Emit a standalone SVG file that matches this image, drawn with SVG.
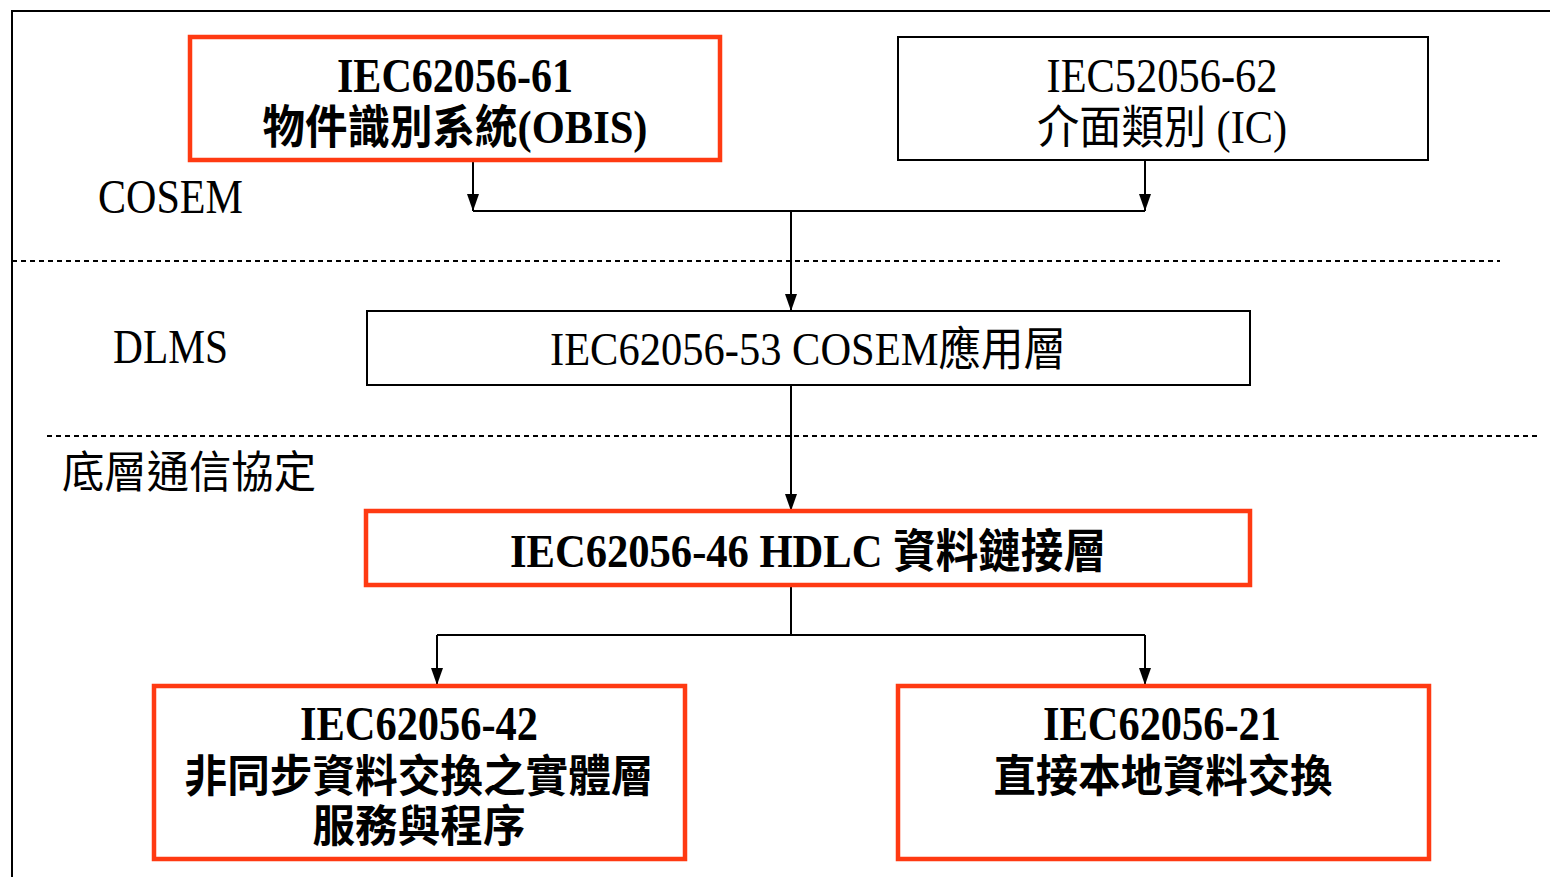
<svg xmlns="http://www.w3.org/2000/svg" width="1550" height="877" viewBox="0 0 1550 877">
<defs>
<marker id="arr" markerUnits="userSpaceOnUse" markerWidth="18" markerHeight="14" refX="17" refY="7" orient="auto" viewBox="0 0 18 14">
<path d="M0,1 L17,7 L0,13 Z" fill="#000"/>
</marker>
</defs>
<style>
.t{font-family:"Liberation Serif","Noto Sans CJK TC",serif;font-size:44px;fill:#000;text-anchor:middle}
.tl{font-family:"Liberation Serif","Noto Sans CJK TC",serif;font-size:44px;fill:#000}
.L{font-size:48px}
.M{font-size:46px}
.b{font-weight:bold}
.red{fill:#fff;stroke:#FF3A12;stroke-width:4.5}
.blk{fill:#fff;stroke:#000;stroke-width:2}
.ln{fill:none;stroke:#000;stroke-width:2}
.dash{fill:none;stroke:#000;stroke-width:2.2;stroke-dasharray:5 4}
.con{fill:none;stroke:#000;stroke-width:2}
</style>
<rect width="1550" height="877" fill="#fff"/>
<g id="frame">
<path class="ln" d="M12,877 L12,11 L1550,11"/>
<path class="dash" d="M12,261 L1500,261"/>
<path class="dash" d="M47,436 L1540,436"/>
</g>
<g id="labels">
<text class="tl L" x="98" y="213" textLength="145" lengthAdjust="spacingAndGlyphs">COSEM</text>
<text class="tl L" x="113" y="363" textLength="115" lengthAdjust="spacingAndGlyphs">DLMS</text>
<text class="tl" x="62" y="488" textLength="254" lengthAdjust="spacingAndGlyphs">底層通信協定</text>
</g>
<g id="connectors">
<path class="con" d="M473,160 L473,211" marker-end="url(#arr)"/>
<path class="con" d="M1145,160 L1145,211" marker-end="url(#arr)"/>
<path class="con" d="M473,211 L1145,211"/>
<path class="con" d="M791,211 L791,311" marker-end="url(#arr)"/>
<path class="con" d="M791,385 L791,511" marker-end="url(#arr)"/>
<path class="con" d="M791,587 L791,635 M437,635 L1145,635"/>
<path class="con" d="M437,635 L437,685" marker-end="url(#arr)"/>
<path class="con" d="M1145,635 L1145,685" marker-end="url(#arr)"/>
</g>
<g id="n61">
<rect class="red" x="190" y="37" width="530" height="123"/>
<text class="t b L" x="455" y="92" textLength="236" lengthAdjust="spacingAndGlyphs">IEC62056-61</text>
<text class="t b M" x="455" y="143" textLength="385" lengthAdjust="spacingAndGlyphs">物件識別系統(OBIS)</text>
</g>
<g id="n62">
<rect class="blk" x="898" y="37" width="530" height="123"/>
<text class="t L" x="1162" y="92" textLength="231" lengthAdjust="spacingAndGlyphs">IEC52056-62</text>
<text class="t M" x="1162" y="143" textLength="250" lengthAdjust="spacingAndGlyphs">介面類別 (IC)</text>
</g>
<g id="n53">
<rect class="blk" x="367" y="311" width="883" height="74"/>
<text class="t M" x="808" y="365" textLength="516" lengthAdjust="spacingAndGlyphs">IEC62056-53 COSEM應用層</text>
</g>
<g id="n46">
<rect class="red" x="366" y="511" width="884" height="74"/>
<text class="t b M" x="808" y="567" textLength="596" lengthAdjust="spacingAndGlyphs">IEC62056-46 HDLC 資料鏈接層</text>
</g>
<g id="n42">
<rect class="red" x="154" y="686" width="531" height="173"/>
<text class="t b L" x="419" y="740" textLength="238" lengthAdjust="spacingAndGlyphs">IEC62056-42</text>
<text class="t b" x="419" y="792" textLength="469" lengthAdjust="spacingAndGlyphs">非同步資料交換之實體層</text>
<text class="t b" x="419" y="842" textLength="213" lengthAdjust="spacingAndGlyphs">服務與程序</text>
</g>
<g id="n21">
<rect class="red" x="898" y="686" width="531" height="173"/>
<text class="t b L" x="1162" y="740" textLength="238" lengthAdjust="spacingAndGlyphs">IEC62056-21</text>
<text class="t b" x="1163" y="792" textLength="339" lengthAdjust="spacingAndGlyphs">直接本地資料交換</text>
</g>
</svg>
